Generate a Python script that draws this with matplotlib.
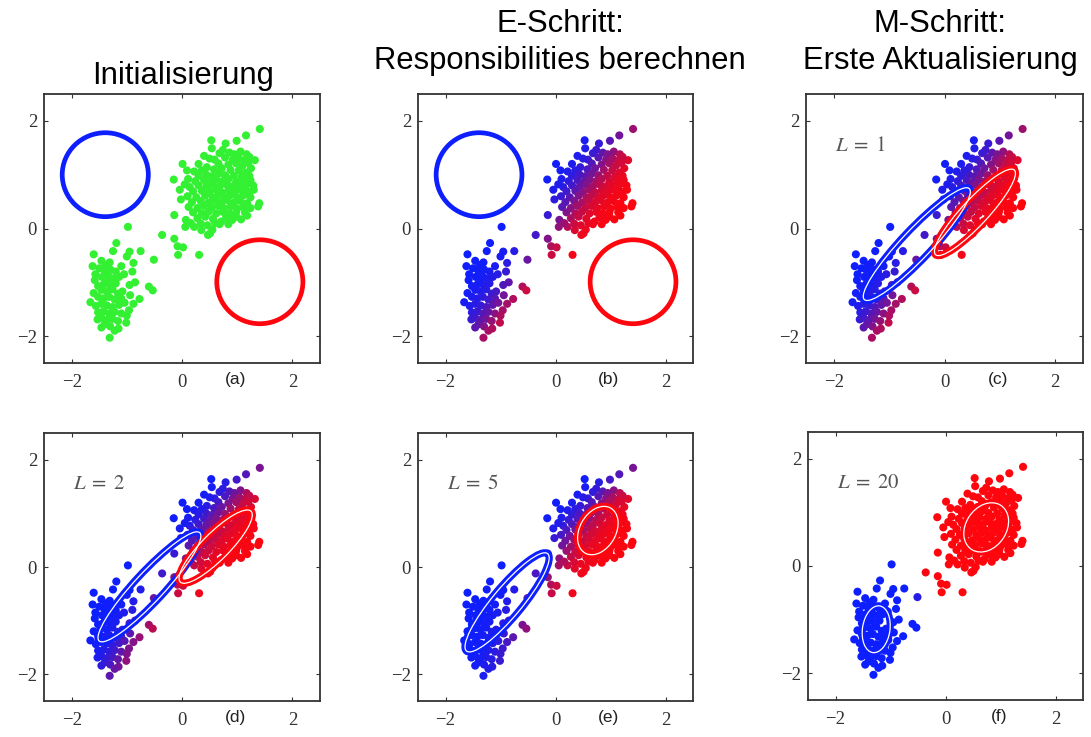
import numpy as np
import matplotlib.pyplot as plt
from matplotlib.patches import Ellipse
from matplotlib.transforms import blended_transform_factory

# === data: points (same points in every panel) ===
upper_x = [1.41, 1.16, 0.99, 0.53, 0.79, 0.54, 0.74, 1.06, 0.40, 0.59, 1.32, 0.01, 0.09, 0.45, 1.25,
           -0.15, 0.11, -0.04, 0.14, -0.14, 0.07, 0.06, 0.22, 0.35, 0.51, 0.68, 0.71, 0.91, 1.07, 1.38,
           1.40, 1.29, -0.36, -0.14, -0.08, 0.02, -0.07, 0.31, -0.51, 0.55, 0.47,
           0.86, 0.95, 1.17, 0.68,
           0.50, 0.78, 0.92, 1.04, 1.14, 1.22,
           0.30, 0.66, 0.84, 0.98, 1.10, 1.20,
           0.22, 0.36, 0.58, 0.72, 0.88, 1.03, 1.16,
           0.30, 0.44, 0.54, 0.66, 0.78, 0.94, 1.08, 1.22,
           0.24, 0.40, 0.50, 0.62, 0.74, 0.84, 0.98, 1.12, 1.24,
           0.05, 0.30, 0.44, 0.56, 0.68, 0.80, 0.90, 1.02, 1.14, 1.20,
           0.20, 0.36, 0.50, 0.62, 0.72, 0.84, 0.96, 1.08, 1.22, 1.30,
           0.10, 0.26, 0.42, 0.56, 0.66, 0.78, 0.88, 1.00, 1.12, 1.24,
           -0.02, 0.18, 0.34, 0.48, 0.60, 0.72, 0.82, 0.94, 1.06, 1.18,
           0.12, 0.28, 0.40, 0.54, 0.66, 0.76, 0.88, 1.00, 1.12, 1.24,
           0.20, 0.36, 0.48, 0.62, 0.74, 0.86, 0.98, 1.14,
           0.28, 0.42, 0.56, 0.80, 0.98, 1.18,
           0.16, 0.34, 0.46, 0.60, 0.84]
upper_y = [1.85, 1.73, 1.63, 1.64, 1.58, 1.49, 1.46, 1.43, 1.35, 1.28, 1.27, 1.20, 1.08, 1.14, 1.12,
           0.91, 0.92, 0.72, 0.77, 0.25, 0.16, 0.03, 0.03, -0.03, -0.09, 0.08, 0.13, 0.16, 0.17, 0.41,
           0.47, 0.80, -0.12, -0.19, -0.33, -0.35, -0.49, -0.49, -0.58, -0.02, -0.12,
           1.41, 1.38, 1.38, 1.40,
           1.30, 1.32, 1.28, 1.30, 1.26, 1.33,
           1.20, 1.21, 1.19, 1.21, 1.17, 1.22,
           1.06, 1.08, 1.10, 1.12, 1.09, 1.08, 1.04,
           0.98, 1.00, 0.97, 1.02, 0.99, 0.98, 0.96, 0.98,
           0.88, 0.90, 0.86, 0.91, 0.88, 0.92, 0.87, 0.89, 0.90,
           0.82, 0.80, 0.78, 0.81, 0.78, 0.82, 0.78, 0.80, 0.77, 0.84,
           0.69, 0.70, 0.68, 0.72, 0.67, 0.71, 0.69, 0.71, 0.68, 0.72,
           0.60, 0.58, 0.61, 0.58, 0.62, 0.58, 0.62, 0.58, 0.62, 0.58,
           0.54, 0.49, 0.51, 0.48, 0.52, 0.49, 0.53, 0.48, 0.51, 0.47,
           0.40, 0.38, 0.42, 0.39, 0.42, 0.38, 0.41, 0.37, 0.40, 0.38,
           0.30, 0.28, 0.31, 0.28, 0.31, 0.28, 0.30, 0.30,
           0.19, 0.22, 0.18, 0.21, 0.22, 0.24,
           0.10, 0.09, 0.06, 0.10, 0.08]
lower_x = [-0.98, -1.19, -1.60, -1.25, -0.95, -0.75, -1.46, -1.31, -0.88, -1.00, -1.57, -1.20, -0.60,
           -0.53, -0.77, -0.94, -1.66, -0.96, -1.01, -1.15, -1.31, -1.46, -1.53, -1.08, -1.36, -1.52,
           -1.50, -1.40, -1.30, -1.10, -1.45, -1.33, -1.24, -1.14, -1.58,
           -1.42, -1.30, -1.20, -1.46, -1.36, -1.26, -1.16, -1.60,
           -1.52, -1.42, -1.32, -1.22, -1.10,
           -1.56, -1.46, -1.36, -1.26, -1.14, -1.04,
           -1.52, -1.42, -1.32, -1.22, -1.10,
           -1.46, -1.36, -1.26, -1.16, -1.40, -1.30, -1.22,
           -0.90, -1.05, -0.85, -0.95, -1.62, -1.38, -1.00, -0.88]
lower_y = [0.03, -0.27, -0.48, -0.42, -0.43, -0.42, -0.60, -0.63, -0.64, -0.52, -0.85, -0.80, -1.08,
           -1.15, -1.31, -1.24, -1.37, -1.52, -1.75, -1.86, -2.03, -1.84, -1.69, -1.17, -0.98, -1.07,
           -0.74, -0.79, -0.76, -0.70, -0.90, -0.88, -0.93, -0.90, -0.96,
           -1.04, -1.06, -1.02, -1.14, -1.17, -1.13, -1.21, -1.20,
           -1.27, -1.30, -1.27, -1.32, -1.30,
           -1.44, -1.40, -1.43, -1.46, -1.42, -1.38,
           -1.56, -1.54, -1.58, -1.55, -1.58,
           -1.66, -1.70, -1.68, -1.72, -1.78, -1.82, -1.90,
           -0.80, -0.85, -1.00, -1.05, -0.70, -0.68, -1.62, -1.40]

x = np.array(upper_x + lower_x)
y = np.array(upper_y + lower_y)

# === panel settings ===
panel_tags = ["(a)", "(b)", "(c)", "(d)", "(e)", "(f)"]
panel_L = [None, None, r"$L\;=\;1$", r"$L\;=\;2$", r"$L\;=\;5$", r"$L\;=\;20$"]
titles = ["Initialisierung", "E-Schritt:\nResponsibilities berechnen", "M-Schritt:\nErste Aktualisierung"]

# ellipse outlines: (cx, cy, semi-major, semi-minor, angle deg)
blue_ell = [(-1.39, 1.00, 0.78, 0.78, 0), (-1.39, 1.00, 0.78, 0.78, 0),
            (-0.50, -0.29, 1.40, 0.27, 47.5), (-0.59, -0.37, 1.36, 0.27, 48),
            (-0.88, -0.66, 1.17, 0.27, 51), (-1.26, -1.18, 0.44, 0.25, 82)]
red_ell = [(1.41, -0.99, 0.78, 0.78, 0), (1.41, -0.99, 0.78, 0.78, 0),
           (0.55, 0.30, 1.06, 0.24, 48), (0.61, 0.38, 0.92, 0.25, 46),
           (0.77, 0.68, 0.48, 0.33, 62), (0.74, 0.72, 0.49, 0.37, 58)]
pi_red = [0.5, 0.5, 0.5, 0.5, 0.5, 0.64]
# which panel's gaussians colour the points (None = green)
color_from = [None, 1, 1, 2, 3, 5]

BLUE = np.array([0.05, 0.12, 1.0])
RED = np.array([1.0, 0.02, 0.05])
GREEN = "#33f033"


def log_gauss(px, py, e):
    cx, cy, a, b, ang = e
    t = np.deg2rad(ang)
    dx, dy = px - cx, py - cy
    u = dx * np.cos(t) + dy * np.sin(t)
    v = -dx * np.sin(t) + dy * np.cos(t)
    return -0.5 * ((u / a) ** 2 + (v / b) ** 2) - np.log(a * b)


def responsibilities(k):
    lr = np.log(pi_red[k]) + log_gauss(x, y, red_ell[k])
    lb = np.log(1 - pi_red[k]) + log_gauss(x, y, blue_ell[k])
    return 1.0 / (1.0 + np.exp(lb - lr))


plt.rcParams["mathtext.fontset"] = "stix"
fig = plt.figure(figsize=(10.91, 7.37), dpi=100)
W, H = 1091, 737

# axes boxes in pixels (left, top, right, bottom)
boxes = [(44, 94, 320, 363), (418, 94, 693, 363), (806, 94, 1083, 363),
         (44, 433, 320, 701), (418, 433, 693, 701), (808, 432, 1083, 700)]

frame_col = "#333333"
for k, (l, t, r, b) in enumerate(boxes):
    ax = fig.add_axes([l / W, 1 - b / H, (r - l) / W, (b - t) / H])
    ax.set_xlim(-2.5, 2.5)
    ax.set_ylim(-2.5, 2.5)

    if color_from[k] is None:
        cols = GREEN
    else:
        rr = responsibilities(color_from[k])[:, None]
        cols = np.clip(rr * RED + (1 - rr) * BLUE, 0, 1)
    ax.scatter(x, y, s=34, c=cols, edgecolors="none", zorder=2)

    for e, col in [(blue_ell[k], BLUE), (red_ell[k], RED)]:
        cx, cy, a, bb, ang = e
        ax.add_patch(Ellipse((cx, cy), 2 * a, 2 * bb, angle=ang, fill=False,
                             edgecolor=col, lw=3.4 if k < 2 else 5.2, zorder=3))
        if k >= 2:
            ax.add_patch(Ellipse((cx, cy), 2 * a, 2 * bb, angle=ang, fill=False,
                                 edgecolor="white", lw=0.9, zorder=4))

    if panel_L[k]:
        ax.text(-1.97, 1.56, panel_L[k], fontsize=15, color="#555555",
                ha="left", va="center")

    ax.set_xticks([-2, 0, 2])
    ax.set_yticks([-2, 0, 2])
    ax.set_xticklabels(["\u22122", "0", "2"])
    ax.set_yticklabels(["\u22122", "0", "2"])
    ax.tick_params(direction="in", length=3, width=0.8, color=frame_col,
                   top=True, right=True, labelsize=13.5, labelcolor="#333333")
    ax.tick_params(axis="x", pad=8)
    ax.tick_params(axis="y", pad=5)
    for lab in ax.get_xticklabels() + ax.get_yticklabels():
        lab.set_family("Liberation Serif")
    for sp in ax.spines.values():
        sp.set_color(frame_col)
        sp.set_linewidth(1.3)

    trans = blended_transform_factory(ax.transData, ax.transAxes)
    ax.text(0.97, -0.035, panel_tags[k], transform=trans, ha="center", va="top",
            fontsize=12.5, family="Liberation Sans", color="#222222")

# column titles
fig.text(183 / W, 1 - 84 / H, titles[0], ha="center", va="baseline",
         fontsize=22.3, family="Liberation Sans")
for cx_px, txt in [(560, titles[1]), (940, titles[2])]:
    l1, l2 = txt.split("\n")
    fig.text(cx_px / W, 1 - 32 / H, l1, ha="center", va="baseline",
             fontsize=22.3, family="Liberation Sans")
    fig.text(cx_px / W, 1 - 68.5 / H, l2, ha="center", va="baseline",
             fontsize=22.3, family="Liberation Sans")

fig.savefig("out.png", dpi=100)
